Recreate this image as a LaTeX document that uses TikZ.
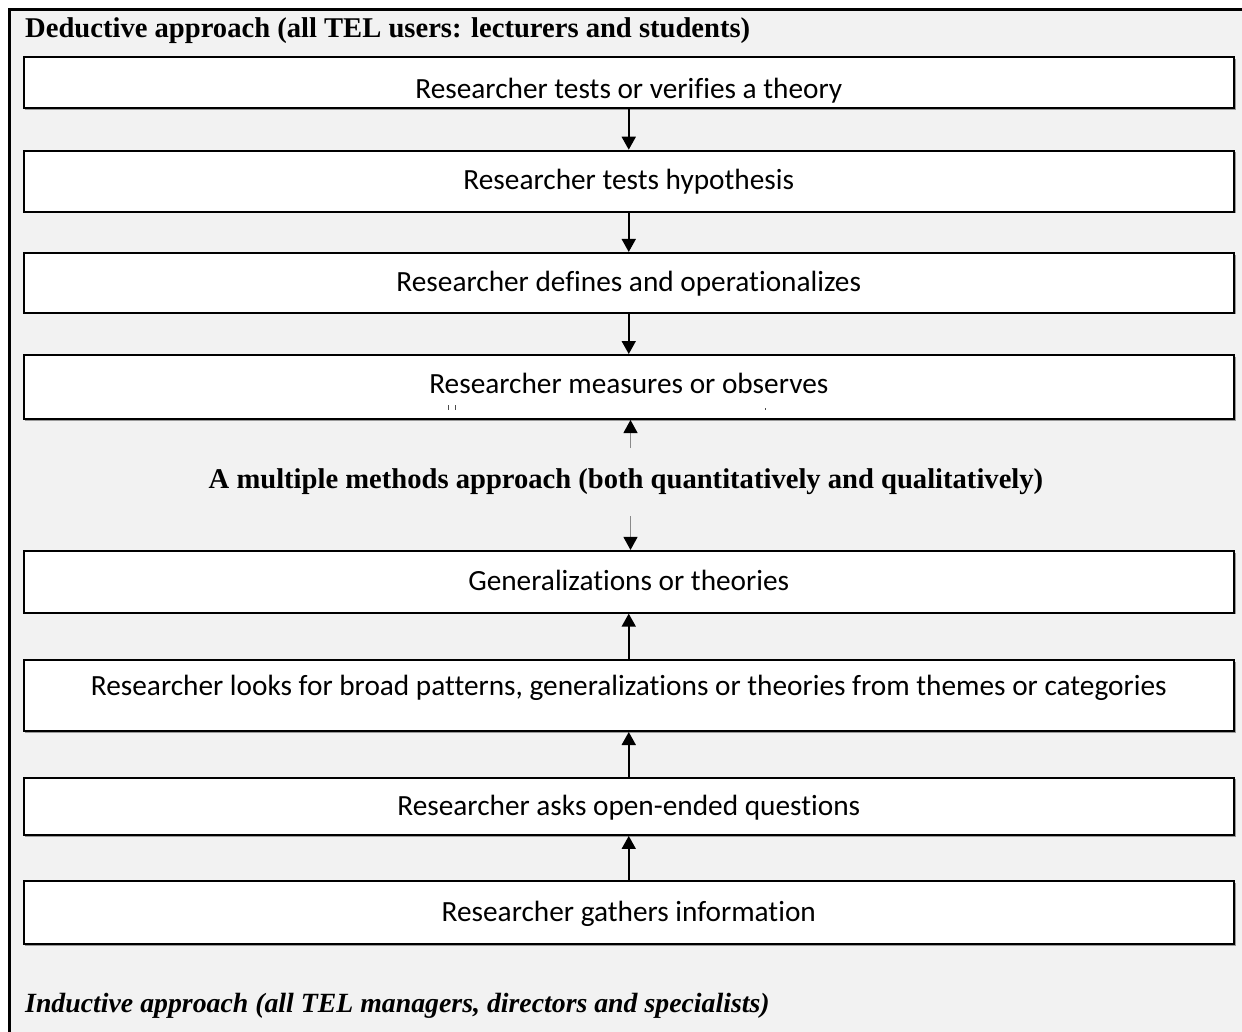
\documentclass[tikz,border=0pt]{standalone}
\usepackage{fontspec}
\setmainfont{Liberation Serif}
\newfontfamily\boxfont[Ligatures={NoCommon}]{Carlito}
\usetikzlibrary{arrows.meta,shadows}
\definecolor{panel}{HTML}{F2F2F2}
\definecolor{shade}{HTML}{9A9A9A}
\definecolor{thinline}{HTML}{8A8A8A}
\begin{document}
\begin{tikzpicture}[x=1pt,y=-1pt,
  stepbox/.style={draw=black,line width=2pt,fill=white,inner sep=0pt,
    minimum width=1210.5pt,minimum height=#1,
    drop shadow={shadow xshift=1.6pt,shadow yshift=-1.6pt,fill=shade,opacity=1}},
  boxtext/.style={inner sep=0pt,anchor=base,font=\boxfont\fontsize{29.3}{35}\selectfont},
  heading/.style={inner sep=0pt,font=\bfseries\fontsize{28.6}{34}\selectfont},
  flowarrow/.style={line width=1.8pt,-{Triangle[width=14pt,length=13pt]}},
  softarrow/.style={line width=1.1pt,draw=thinline,-{Triangle[width=14pt,length=13pt,color=black,fill=black]}}
]
\useasboundingbox (0,0) rectangle (1242,1032);
\clip (0,0) rectangle (1242,1032);
\fill[white] (0,0) rectangle (1242,1032);
% outer panel, running past the right and bottom edges
\draw[line width=2.4pt,fill=panel] (9.5,9.5) rectangle (1262,1052);

% deductive chain
\node[stepbox=51pt]   (b1) at (628.75,82.5)  {};
\node[stepbox=61pt]   (b2) at (628.75,181.2) {};
\node[stepbox=59.7pt] (b3) at (628.75,282.8) {};
\node[stepbox=64pt]   (b4) at (628.75,387)   {};
% inductive chain
\node[stepbox=61.7pt] (b5) at (628.75,581.8) {};
\node[stepbox=71pt]   (b6) at (628.75,695.5) {};
\node[stepbox=57.3pt] (b7) at (628.75,806.3) {};
\node[stepbox=63.5pt] (b8) at (628.75,912.7) {};

% first label is cut off just under its baseline
\begin{scope}
  \clip (b1.north west) rectangle ([yshift=6pt]b1.south east);
  \node[boxtext] (t1) at (628.75,98.5) {Researcher tests or verifies a theory};
\end{scope}
\node[boxtext] (t2) at (628.75,190) {Researcher tests hypothesis};
\node[boxtext] (t3) at (628.75,291) {Researcher defines and operationalizes};
\node[boxtext] (t4) at (628.75,393) {Researcher measures or observes};
\node[boxtext] (t5) at (628.75,590) {Generalizations or theories};
\node[boxtext] (t6) at (628.75,695) {Researcher looks for broad patterns, generalizations or theories from themes or categories};
\node[boxtext] (t7) at (628.75,815) {Researcher asks open-ended questions};
\node[boxtext] (t8) at (628.75,921) {Researcher gathers information};

% clipped ascenders of a second line in the fourth box
\draw[black!70,line width=0.8pt] (448,405) -- (448,410) (455,405) -- (455,410) (765,408) -- (765,410);

% headings
\node[heading,anchor=base west] (ded) at (25,38) {Deductive approach (all TEL users: lecturers and students)};
\node[heading,anchor=base] (mix) at (626,488) {A multiple methods approach (both quantitatively and qualitatively)};
\node[heading,anchor=base west,font=\bfseries\itshape\fontsize{27.8}{33}\selectfont] (ind) at (25,1012) {Inductive approach (all TEL managers, directors and specialists)};

% connectors
\draw[flowarrow] (b1.south) -- (b2.north);
\draw[flowarrow] (b2.south) -- (b3.north);
\draw[flowarrow] (b3.south) -- (b4.north);
\coordinate (mu) at (630.5,448);
\coordinate (md) at (630.5,516);
\draw[softarrow] (mu) -- (mu |- b4.south);
\draw[softarrow] (md) -- (md |- b5.north);
\draw[flowarrow] (b6.north) -- (b5.south);
\draw[flowarrow] (b7.north) -- (b6.south);
\draw[flowarrow] (b8.north) -- (b7.south);
\end{tikzpicture}
\end{document}
